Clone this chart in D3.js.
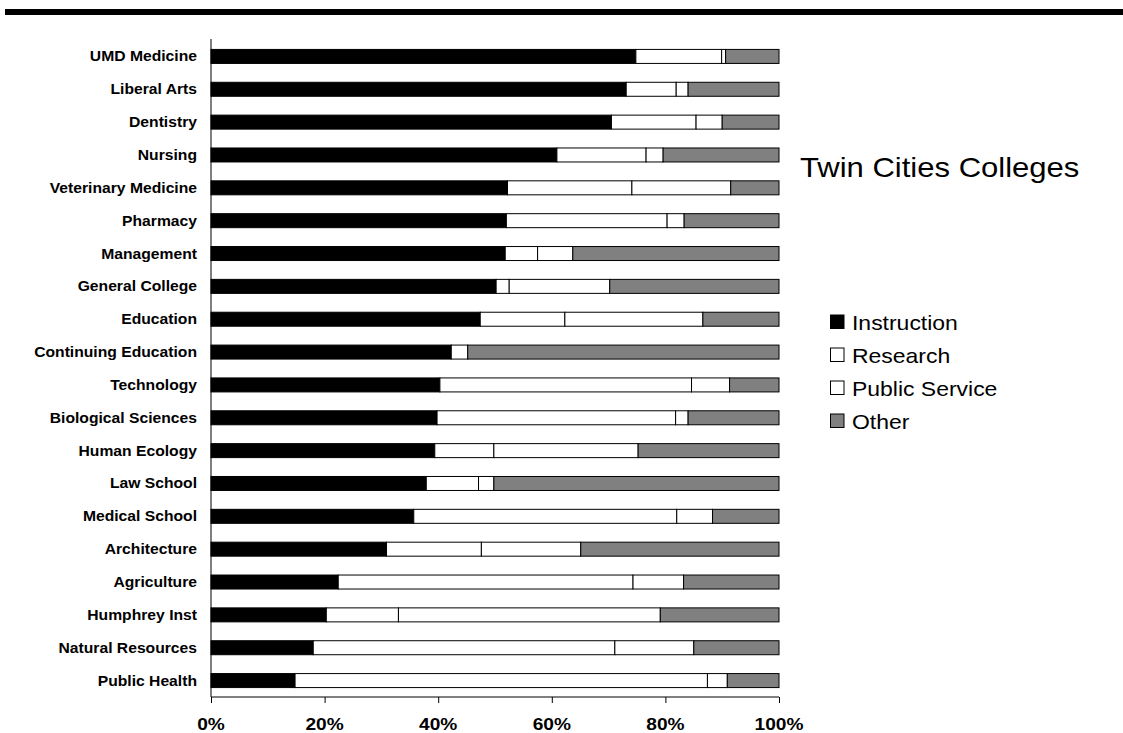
<!DOCTYPE html>
<html>
<head>
<meta charset="utf-8">
<script src="https://cdn.jsdelivr.net/npm/d3@7"></script>
<style>
  html, body { margin: 0; padding: 0; background: #fff; }
  svg { display: block; }
  text { font-family: Arial, "Liberation Sans", sans-serif; fill: #000; }
</style>
</head>
<body>
<svg id="chart" width="1123" height="733"></svg>
<script>
// Share of each college's budget by function (percent)
const colleges = [
  "UMD Medicine", "Liberal Arts", "Dentistry", "Nursing", "Veterinary Medicine",
  "Pharmacy", "Management", "General College", "Education", "Continuing Education",
  "Technology", "Biological Sciences", "Human Ecology", "Law School", "Medical School",
  "Architecture", "Agriculture", "Humphrey Inst", "Natural Resources", "Public Health"
];
const instruction   = [74.8, 73.1, 70.5, 60.9, 52.2, 52.0, 51.8, 50.2, 47.4, 42.3, 40.3, 39.8, 39.4, 37.9, 35.7, 30.9, 22.4, 20.3, 18.0, 14.8];
const research      = [15.1,  8.8, 14.9, 15.7, 21.9, 28.3,  5.7,  2.3, 14.9,  2.9, 44.3, 42.0, 10.4,  9.2, 46.3, 16.7, 51.9, 12.7, 53.1, 72.6];
const publicService = [ 0.7,  2.1,  4.6,  3.0, 17.4,  3.0,  6.2, 17.7, 24.3,  0.0,  6.7,  2.2, 25.4,  2.7,  6.3, 17.5,  8.9, 46.1, 13.9,  3.5];
const other         = [ 9.4, 16.0, 10.0, 20.4,  8.5, 16.7, 36.3, 29.8, 13.4, 54.8,  8.7, 16.0, 24.8, 50.2, 11.7, 34.9, 16.8, 20.9, 15.0,  9.1];
const seriesNames = ["Instruction", "Research", "Public Service", "Other"];
const seriesFills = ["#000000", "#ffffff", "#ffffff", "#808080"];
const tickValues = [0, 20, 40, 60, 80, 100];
const chartTitle = "Twin Cities Colleges";

const svg = d3.select("#chart");

// heavy rule across the top
svg.append("rect").attr("x", 5).attr("y", 9).attr("width", 1118).attr("height", 6).attr("fill", "#000");

const x = d3.scaleLinear().domain([0, 100]).range([211, 779]);
const y = d3.scaleBand().domain(colleges).range([40, 697]).paddingInner(0.574).paddingOuter(0.287);

const rows = colleges.map((c, i) => ({
  college: c,
  Instruction: instruction[i],
  Research: research[i],
  "Public Service": publicService[i],
  Other: other[i]
}));
const stacked = d3.stack().keys(seriesNames)(rows);

svg.append("g").selectAll("g")
  .data(stacked)
  .join("g")
    .attr("fill", (d, i) => seriesFills[i])
  .selectAll("rect")
  .data(d => d)
  .join("rect")
    .attr("x", d => x(d[0]))
    .attr("y", d => y(d.data.college))
    .attr("width", d => Math.max(0, x(d[1]) - x(d[0])))
    .attr("height", y.bandwidth())
    .attr("stroke", "#000")
    .attr("stroke-width", 1);

// wide-set text helper
function wideText(g, tx, ty, str, size, weight, anchor, sx) {
  return g.append("text")
    .attr("transform", `translate(${tx},${ty}) scale(${sx},1)`)
    .attr("text-anchor", anchor)
    .attr("font-size", size + "px")
    .attr("font-weight", weight)
    .text(str);
}

// category labels
const labels = svg.append("g");
colleges.forEach(c => {
  wideText(labels, 197, y(c) + y.bandwidth() / 2 + 5, c, 14, "bold", "end", 1.12);
});

// y axis line
svg.append("line").attr("x1", 211).attr("x2", 211).attr("y1", 39).attr("y2", 697)
  .attr("stroke", "#000").attr("stroke-width", 1);

// x axis
const xAxis = d3.axisBottom(x).tickValues(tickValues).tickSize(6).tickFormat("");
const ax = svg.append("g").attr("transform", "translate(0,697)").call(xAxis);
ax.select(".domain").attr("stroke", "#000").attr("d", `M${x(0)},0H${x(100)}`);
ax.selectAll(".tick line").attr("stroke", "#000");
const tickLabels = svg.append("g");
tickValues.forEach(v => {
  wideText(tickLabels, x(v), 729.5, v + "%", 16.5, "bold", "middle", 1.16);
});

// title
wideText(svg, 800, 177, chartTitle, 27, "normal", "start", 1.15);

// legend
const legend = svg.append("g");
seriesNames.forEach((name, i) => {
  const cy = 322 + i * 33;
  legend.append("rect")
    .attr("x", 830.5).attr("y", cy - 7).attr("width", 13.5).attr("height", 13.5)
    .attr("fill", seriesFills[i]).attr("stroke", "#000").attr("stroke-width", 1);
  wideText(legend, 852, cy + 7.5, name, 20.5, "normal", "start", 1.12);
});
</script>
</body>
</html>
